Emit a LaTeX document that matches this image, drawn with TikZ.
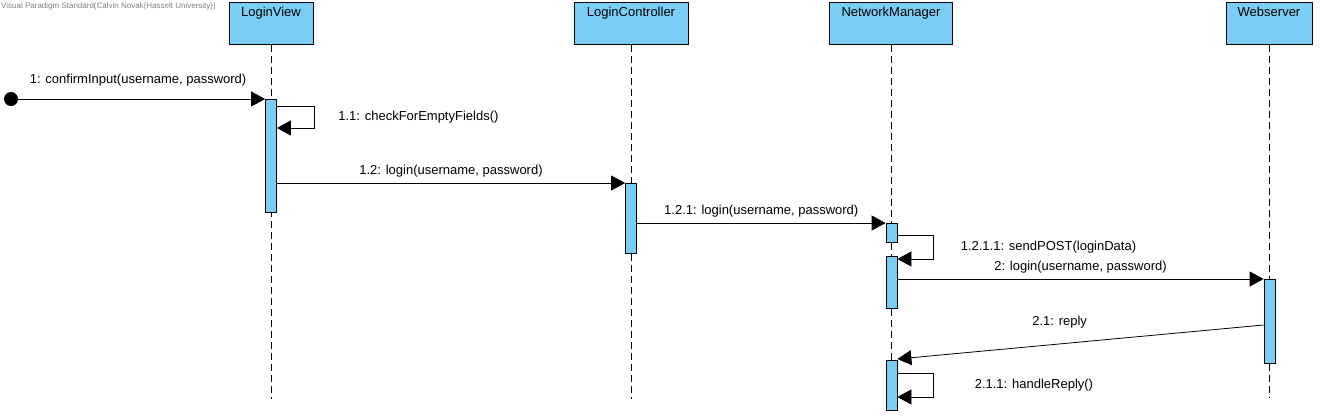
\documentclass[tikz,border=0pt]{standalone}
\usepackage{fontspec}
\setmainfont{Liberation Sans}
\usetikzlibrary{arrows.meta, positioning}
\definecolor{vpblue}{RGB}{122,206,245}

\begin{document}
\begin{tikzpicture}[
    x=1pt, y=-1pt,
    font=\fontsize{13}{15}\selectfont,
    head/.style={draw=black, fill=vpblue, line width=0.9pt, anchor=north, inner xsep=0pt, inner ysep=4pt, text height=10pt, text depth=24pt},
    lifeline/.style={dash pattern=on 7pt off 4pt, line width=0.8pt},
    act/.style={draw=black, fill=vpblue, line width=0.8pt, anchor=north, minimum width=11pt, inner sep=0pt},
    msg/.style={-{Triangle[length=14pt, width=15pt]}, line width=0.8pt},
    msglabel/.style={inner sep=0pt}
]
    \useasboundingbox (0,0) rectangle (1320,416);

    % Header
    \node [anchor=north west, inner sep=1pt, text=gray, font=\fontsize{8}{9}\selectfont] (title) at (0,1) {Visual Paradigm Standard(Calvin Novak(Hasselt University))};

    % Lifelines
    \foreach \name/\x/\w/\len/\txt in {
        lv/271/84/354/LoginView,
        lc/631/114/354/LoginController,
        nm/891/123/366/NetworkManager,
        ws/1269/86/353/Webserver
    } {
        \node [head, minimum width=\w] (\name) at (\x, 2) {\txt};
        \draw [lifeline] (\name.south) -- ++(0, \len);
    }

    % Activations
    \node [act, minimum height=113pt] (lvact) at (271, 99) {};
    \node [act, minimum height=70pt] (lcact) at (631, 183) {};
    \node [act, minimum height=19pt] (nmact1) at (891.5, 223) {};
    \node [act, minimum height=52pt] (nmact2) at (891.5, 256) {};
    \node [act, minimum height=84pt] (wsact) at (1269.5, 279) {};
    \node [act, minimum height=50pt] (nmact3) at (891.5, 360) {};

    % Found message
    \fill (11, 99) circle (7) coordinate (start);
    \draw [msg] (start) -- node [msglabel, above=12pt] (m1) {1: confirmInput(username, password)} (lvact.north west);

    % Messages
    \draw [msg] (lvact.east |- 0, 106) -- ++(37, 0) -- node [msglabel, right=24pt] (m11) {1.1: checkForEmptyFields()} ++(0, 22) -- (lvact.east |- 0, 128);
    \draw [msg] (lvact.east |- lcact.north) -- node [msglabel, above=5pt] (m12) {1.2: login(username, password)} (lcact.north west);
    \draw [msg] (lcact.east |- nmact1.north) -- node [msglabel, above=5pt] (m121) {1.2.1: login(username, password)} (nmact1.north west);
    \draw [msg] (nmact1.east |- 0, 235) -- ++(36, 0) -- node [msglabel, right=27pt] (m1211) {1.2.1.1: sendPOST(loginData)} ++(0, 24) -- (nmact2.east |- 0, 259);
    \draw [msg] (nmact2.east |- wsact.north) -- node [msglabel, above=5pt] (m2) {2: login(username, password)} (wsact.north west);
    \draw [msg] (wsact.west |- 0, 325) -- node [msglabel, pos=0.557, above=15pt] (m21) {2.1: reply} (nmact3.east |- 0, 359);
    \draw [msg] (nmact3.east |- 0, 373) -- ++(36, 0) -- node [msglabel, right=41pt] (m211) {2.1.1: handleReply()} ++(0, 24) -- (nmact3.east |- 0, 397);

\end{tikzpicture}
\end{document}
